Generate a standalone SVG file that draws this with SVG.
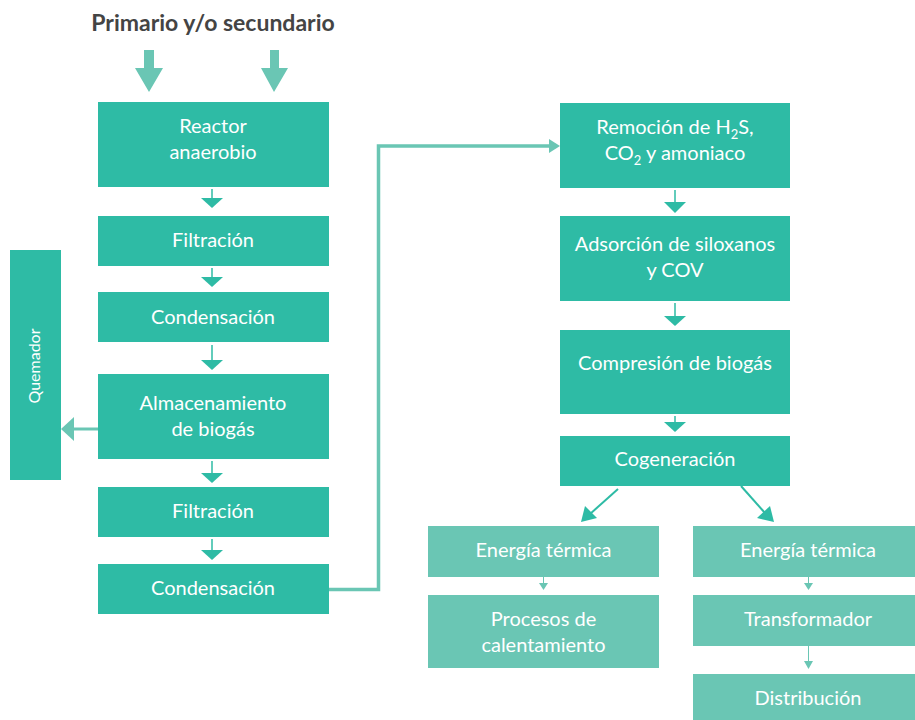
<svg xmlns="http://www.w3.org/2000/svg" width="915" height="720" viewBox="0 0 915 720">
<style>
.b{fill:#2ebba5}
.l{fill:#6ac6b4}
.t{font-family:Lato,"Open Sans",sans-serif;font-size:20px;fill:#fff;text-anchor:middle}
.a{fill:#2ebba5}
.la{fill:#6ac6b4}
</style>
<rect width="915" height="720" fill="#fff"/>
<text x="213" y="31" font-family="Lato,'Open Sans',sans-serif" font-weight="bold" font-size="23" fill="#444" text-anchor="middle">Primario y/o secundario</text>
<g id="connectors">
<polygon class="la" points="144,50 154,50 154,68 163,68 149,92 135,68 144,68"/>
<polygon class="la" points="270,50 279,50 279,68 288,68 274,92 261,68 270,68"/>
<g stroke="#2ebba5" stroke-width="1.5">
<line x1="212" y1="189" x2="212" y2="199"/>
<line x1="212" y1="268" x2="212" y2="279"/>
<line x1="212" y1="345" x2="212" y2="361"/>
<line x1="212" y1="461" x2="212" y2="475"/>
<line x1="212" y1="539" x2="212" y2="552"/>
<line x1="675" y1="190" x2="675" y2="203"/>
<line x1="675" y1="303" x2="675" y2="317"/>
<line x1="675" y1="416" x2="675" y2="424"/>
</g>
<polygon class="a" points="201,198 223,198 212,208"/>
<polygon class="a" points="201,277 223,277 212,287"/>
<polygon class="a" points="201,360 223,360 212,370"/>
<polygon class="a" points="201,473 223,473 212,483"/>
<polygon class="a" points="201,550 223,550 212,560"/>
<polygon class="a" points="664,202 686,202 675,213"/>
<polygon class="a" points="664,316 686,316 675,326"/>
<polygon class="a" points="664,422 686,422 675,432"/>
<line x1="98" y1="429" x2="72" y2="429" stroke="#6ac6b4" stroke-width="3"/>
<polygon class="la" points="61,429 74,417 74,441"/>
<polyline points="329,589.5 378.5,589.5 378.5,146 552,146" fill="none" stroke="#6ac6b4" stroke-width="3.5"/>
<polygon class="la" points="560,146 549,139 549,153"/>
<line x1="618" y1="489" x2="590" y2="514" stroke="#2ebba5" stroke-width="2"/>
<polygon class="a" points="581,522 585,506 597,518"/>
<line x1="741" y1="486" x2="765" y2="513" stroke="#2ebba5" stroke-width="2"/>
<polygon class="a" points="774,522 757,518 770,506"/>
<g stroke="#6ac6b4" stroke-width="1">
<line x1="543.5" y1="577" x2="543.5" y2="584"/>
<line x1="808.5" y1="577" x2="808.5" y2="584"/>
<line x1="808.5" y1="646" x2="808.5" y2="661"/>
</g>
<polygon class="la" points="539,583 548,583 543.5,590"/>
<polygon class="la" points="804,583 813,583 808.5,590"/>
<polygon class="la" points="804,661 813,661 808.5,669"/>
</g>
<g id="quemador"><rect class="b" x="10" y="250" width="51" height="230"/><text class="t" style="font-size:16px" transform="translate(40,366) rotate(-90)">Quemador</text></g>
<g id="reactor"><rect class="b" x="98" y="102" width="231" height="85"/><text class="t" x="213" y="133">Reactor</text><text class="t" x="213" y="159">anaerobio</text></g>
<g id="filtracion1"><rect class="b" x="98" y="216" width="231" height="50"/><text class="t" x="213" y="247">Filtración</text></g>
<g id="condensacion1"><rect class="b" x="98" y="292" width="231" height="50"/><text class="t" x="213" y="324">Condensación</text></g>
<g id="almacenamiento"><rect class="b" x="98" y="374" width="231" height="85"/><text class="t" x="213" y="410">Almacenamiento</text><text class="t" x="213" y="436">de biogás</text></g>
<g id="filtracion2"><rect class="b" x="98" y="487" width="231" height="50"/><text class="t" x="213" y="518">Filtración</text></g>
<g id="condensacion2"><rect class="b" x="98" y="564" width="231" height="50"/><text class="t" x="213" y="595">Condensación</text></g>
<g id="remocion"><rect class="b" x="560" y="103" width="230" height="85"/><text class="t" x="675" y="134">Remoción de H<tspan font-size="13" dy="5">2</tspan><tspan dy="-5">S,</tspan></text><text class="t" x="675" y="160">CO<tspan font-size="13" dy="5">2</tspan><tspan dy="-5"> y amoniaco</tspan></text></g>
<g id="adsorcion"><rect class="b" x="560" y="216" width="230" height="85"/><text class="t" x="675" y="251">Adsorción de siloxanos</text><text class="t" x="675" y="277">y COV</text></g>
<g id="compresion"><rect class="b" x="560" y="330" width="230" height="84"/><text class="t" x="675" y="370">Compresión de biogás</text></g>
<g id="cogeneracion"><rect class="b" x="560" y="436" width="230" height="50"/><text class="t" x="675" y="466">Cogeneración</text></g>
<g id="energia1"><rect class="l" x="428" y="526" width="231" height="51"/><text class="t" x="543.5" y="557">Energía térmica</text></g>
<g id="procesos"><rect class="l" x="428" y="595" width="231" height="73"/><text class="t" x="543.5" y="626">Procesos de</text><text class="t" x="543.5" y="652">calentamiento</text></g>
<g id="energia2"><rect class="l" x="693" y="526" width="222" height="51"/><text class="t" x="808" y="557">Energía térmica</text></g>
<g id="transformador"><rect class="l" x="693" y="595" width="222" height="51"/><text class="t" x="808" y="626">Transformador</text></g>
<g id="distribucion"><rect class="l" x="693" y="674" width="222" height="46"/><text class="t" x="808" y="705">Distribución</text></g>
</svg>
